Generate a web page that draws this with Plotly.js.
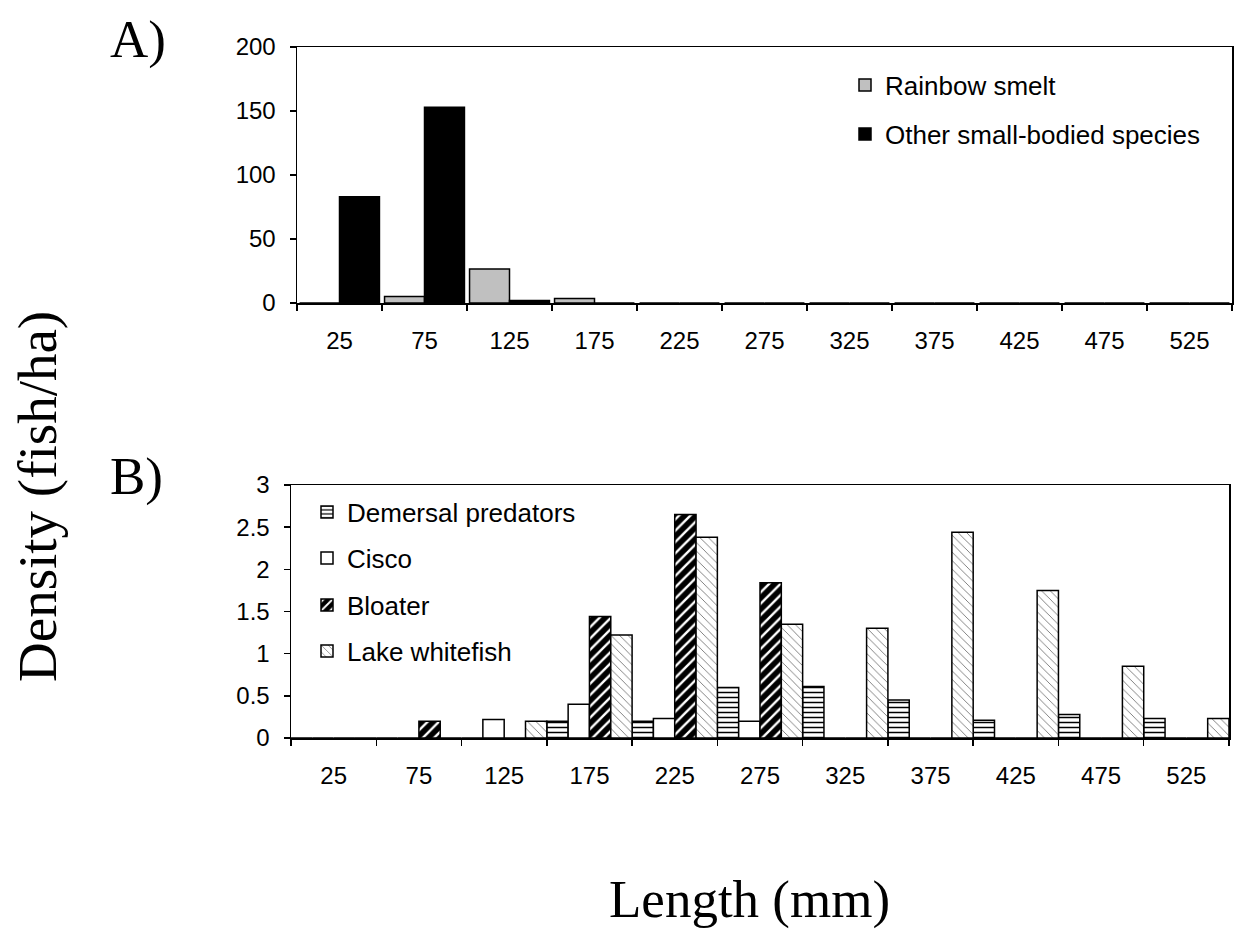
<!DOCTYPE html>
<html><head><meta charset="utf-8">
<script src="https://cdn.plot.ly/plotly-3.0.1.min.js"></script>
<style>html,body{margin:0;padding:0;background:#fff}</style>
</head><body>
<div id="chart" style="width:1235px;height:930px"></div>
<script>
// Length classes (mm)
const lengthClasses = ["25","75","125","175","225","275","325","375","425","475","525"];
// Panel A densities (fish/ha)
const rainbowSmelt = [0, 5, 26.5, 3.5, 0, 0, 0, 0, 0, 0, 0];
const otherSmallBodied = [83, 153, 2, 0, 0, 0, 0, 0, 0, 0, 0];
// Panel B densities (fish/ha)
const demersalPredators = [0, 0, 0, 0.2, 0.2, 0.6, 0.61, 0.45, 0.21, 0.28, 0.23];
const cisco = [0, 0, 0.22, 0.4, 0.23, 0.2, 0, 0, 0, 0, 0];
const bloater = [0, 0.2, 0, 1.44, 2.65, 1.84, 0, 0, 0, 0, 0];
const lakeWhitefish = [0, 0, 0.2, 1.22, 2.38, 1.35, 1.3, 2.44, 1.75, 0.85, 0.23];

const SANS = "Liberation Sans, Arial, sans-serif";
const SERIF = "Liberation Serif, Times New Roman, serif";
const outline = {color: "#000", width: 1.5};

const traces = [
  {type: "bar", name: "Rainbow smelt", x: lengthClasses, y: rainbowSmelt,
   xaxis: "x", yaxis: "y", offset: -0.47, width: 0.47, legend: "legend",
   marker: {color: "#c0c0c0", line: outline}},
  {type: "bar", name: "Other small-bodied species", x: lengthClasses, y: otherSmallBodied,
   xaxis: "x", yaxis: "y", offset: 0, width: 0.47, legend: "legend2",
   marker: {color: "#000000", line: outline}},
  {type: "bar", name: "Demersal predators", x: lengthClasses, y: demersalPredators,
   xaxis: "x2", yaxis: "y2", offset: -0.5, width: 0.25, legend: "legend3",
   marker: {color: "#ffffff", line: outline,
     pattern: {shape: "-", fgcolor: "#000", bgcolor: "#fff", size: 5, solidity: 0.3}}},
  {type: "bar", name: "Cisco", x: lengthClasses, y: cisco,
   xaxis: "x2", yaxis: "y2", offset: -0.25, width: 0.25, legend: "legend4",
   marker: {color: "#ffffff", line: outline}},
  {type: "bar", name: "Bloater", x: lengthClasses, y: bloater,
   xaxis: "x2", yaxis: "y2", offset: 0, width: 0.25, legend: "legend5",
   marker: {color: "#000000", line: outline,
     pattern: {shape: "/", fgcolor: "#fff", bgcolor: "#000", size: 8, solidity: 0.3}}},
  {type: "bar", name: "Lake whitefish", x: lengthClasses, y: lakeWhitefish,
   xaxis: "x2", yaxis: "y2", offset: 0.25, width: 0.25, legend: "legend6",
   marker: {color: "#ffffff", line: outline,
     pattern: {shape: "\\", fgcolor: "#777", bgcolor: "#fff", size: 6, solidity: 0.15}}}
];

function xAxis(domain, anchor) {
  return {domain: domain, anchor: anchor, type: "category",
    categoryorder: "array", categoryarray: lengthClasses,
    tickson: "boundaries", ticks: "outside", ticklen: 6, tickwidth: 1.5, tickcolor: "#000",
    showline: true, linecolor: "#000", linewidth: 1.5, mirror: true,
    showgrid: false, zeroline: false, automargin: false, fixedrange: true,
    ticklabelstandoff: 16,
    tickfont: {family: SANS, size: 24, color: "#000"}};
}
function yAxis(domain, anchor, range, dtick) {
  return {domain: domain, anchor: anchor, range: range, dtick: dtick,
    ticks: "outside", ticklen: 6, tickwidth: 1.5, tickcolor: "#000",
    showline: true, linecolor: "#000", linewidth: 1.5, mirror: true,
    showgrid: false, zeroline: false, automargin: false, fixedrange: true,
    ticklabelstandoff: 9,
    tickfont: {family: SANS, size: 24, color: "#000"}};
}
function legendAt(xPx, yPx) {
  return {x: xPx / 1235, y: 1 - yPx / 930, xanchor: "left", yanchor: "middle",
    bgcolor: "rgba(0,0,0,0)", borderwidth: 0,
    font: {family: SANS, size: 26, color: "#000"}};
}

const layout = {
  width: 1235, height: 930,
  margin: {l: 0, r: 0, t: 0, b: 0},
  paper_bgcolor: "#fff", plot_bgcolor: "#fff",
  barmode: "group", bargap: 0,
  showlegend: true,
  xaxis: xAxis([297/1235, 1232/1235], "y"),
  yaxis: yAxis([1 - 303/930, 1 - 47/930], "x", [0, 200], 50),
  xaxis2: xAxis([291/1235, 1229/1235], "y2"),
  yaxis2: yAxis([1 - 738/930, 1 - 485/930], "x2", [0, 3], 0.5),
  legend: legendAt(845, 85),
  legend2: legendAt(845, 134),
  legend3: legendAt(307, 512),
  legend4: legendAt(307, 558),
  legend5: legendAt(307, 605),
  legend6: legendAt(307, 651),
  annotations: [
    {text: "A)", xref: "paper", yref: "paper", x: 108/1235, y: 1 - 40/930,
     xanchor: "left", yanchor: "middle", showarrow: false,
     font: {family: SERIF, size: 53, color: "#000"}},
    {text: "B)", xref: "paper", yref: "paper", x: 108/1235, y: 1 - 476/930,
     xanchor: "left", yanchor: "middle", showarrow: false,
     font: {family: SERIF, size: 53, color: "#000"}},
    {text: "Density (fish/ha)", xref: "paper", yref: "paper", x: 37/1235, y: 1 - 497/930,
     xanchor: "center", yanchor: "middle", textangle: -90, showarrow: false,
     font: {family: SERIF, size: 55, color: "#000"}},
    {text: "Length (mm)", xref: "paper", yref: "paper", x: 749/1235, y: 1 - 899/930,
     xanchor: "center", yanchor: "middle", showarrow: false,
     font: {family: SERIF, size: 53, color: "#000"}}
  ]
};

Plotly.newPlot("chart", traces, layout, {displayModeBar: false, staticPlot: true});
</script>
</body></html>
